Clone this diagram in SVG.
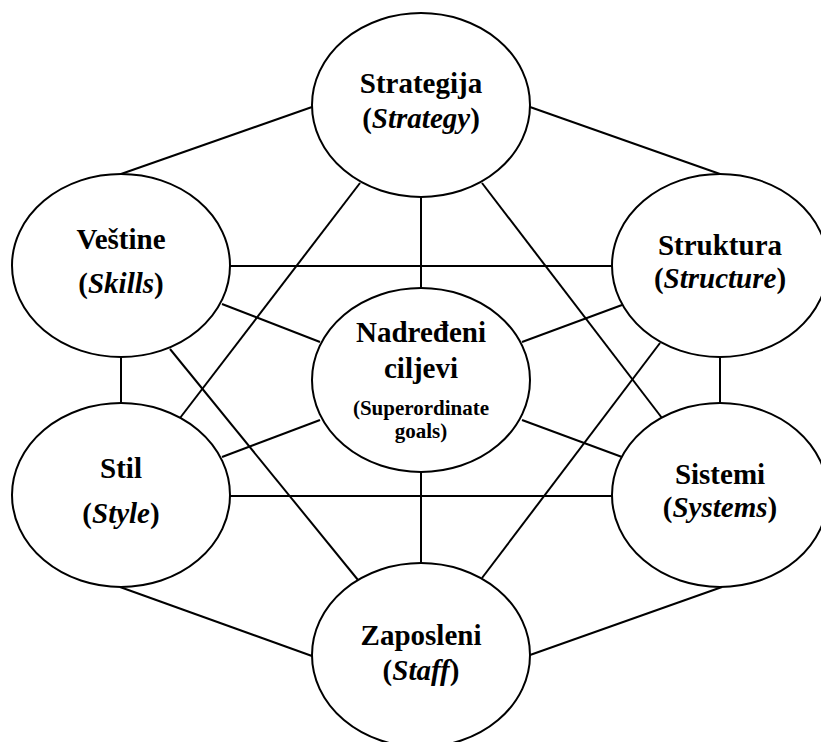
<svg xmlns="http://www.w3.org/2000/svg" width="821" height="742" viewBox="0 0 821 742">
  <style>
    .link { stroke: #000; stroke-width: 2; fill: none; }
    .node ellipse { fill: #fff; stroke: #000; stroke-width: 2; }
    .node text { font-weight: bold; font-size: 29px; fill: #000; text-anchor: middle; }
    .node text .it { font-style: italic; }
    .node text.small { font-size: 21px; }
  </style>
  <rect width="821" height="742" fill="#fff"/>

  <!-- connectors between the seven elements -->
  <g id="connectors" class="link">
    <line x1="121" y1="174" x2="312" y2="107"/>
    <line x1="530" y1="107" x2="720" y2="174"/>
    <line x1="360" y1="183" x2="180" y2="418"/>
    <line x1="482" y1="183" x2="662" y2="418"/>
    <line x1="421" y1="197" x2="421" y2="288"/>
    <line x1="230" y1="266" x2="612" y2="266"/>
    <line x1="222" y1="304" x2="320" y2="342"/>
    <line x1="170" y1="349" x2="358" y2="580"/>
    <line x1="622" y1="305" x2="522" y2="342"/>
    <line x1="660" y1="343" x2="482" y2="578"/>
    <line x1="121" y1="357" x2="121" y2="403"/>
    <line x1="720" y1="357" x2="720" y2="403"/>
    <line x1="320" y1="420" x2="222" y2="457"/>
    <line x1="522" y1="420" x2="622" y2="457"/>
    <line x1="230" y1="496" x2="612" y2="496"/>
    <line x1="421" y1="472" x2="421" y2="563"/>
    <line x1="120" y1="587" x2="312" y2="656"/>
    <line x1="722" y1="587" x2="530" y2="655"/>
  </g>

  <g font-family="Liberation Serif, Tinos, DejaVu Serif, serif">
  <g id="strategy" class="node">
    <ellipse cx="421" cy="105" rx="109" ry="92"/>
    <text x="421" y="93">Strategija</text>
    <text x="421" y="128">(<tspan class="it">Strategy</tspan>)</text>
  </g>

  <g id="skills" class="node">
    <ellipse cx="121" cy="265.5" rx="109" ry="91.5"/>
    <text x="121" y="249">Veštine</text>
    <text x="121" y="293">(<tspan class="it">Skills</tspan>)</text>
  </g>

  <g id="structure" class="node">
    <ellipse cx="720" cy="265.5" rx="108" ry="91.5"/>
    <text x="720" y="255">Struktura</text>
    <text x="720" y="288">(<tspan class="it">Structure</tspan>)</text>
  </g>

  <g id="superordinate-goals" class="node">
    <ellipse cx="421" cy="380" rx="109" ry="92"/>
    <text x="421" y="342">Nadređeni</text>
    <text x="421" y="378">ciljevi</text>
    <text class="small" x="421" y="415">(Superordinate</text>
    <text class="small" x="421" y="438">goals)</text>
  </g>

  <g id="style" class="node">
    <ellipse cx="121" cy="495" rx="109" ry="92"/>
    <text x="121" y="478">Stil</text>
    <text x="121" y="523">(<tspan class="it">Style</tspan>)</text>
  </g>

  <g id="systems" class="node">
    <ellipse cx="720" cy="495" rx="108" ry="92"/>
    <text x="720" y="484">Sistemi</text>
    <text x="720" y="517">(<tspan class="it">Systems</tspan>)</text>
  </g>

  <g id="staff" class="node">
    <ellipse cx="421" cy="655" rx="109" ry="92"/>
    <text x="421" y="645">Zaposleni</text>
    <text x="421" y="680">(<tspan class="it">Staff</tspan>)</text>
  </g>
  </g>
</svg>
